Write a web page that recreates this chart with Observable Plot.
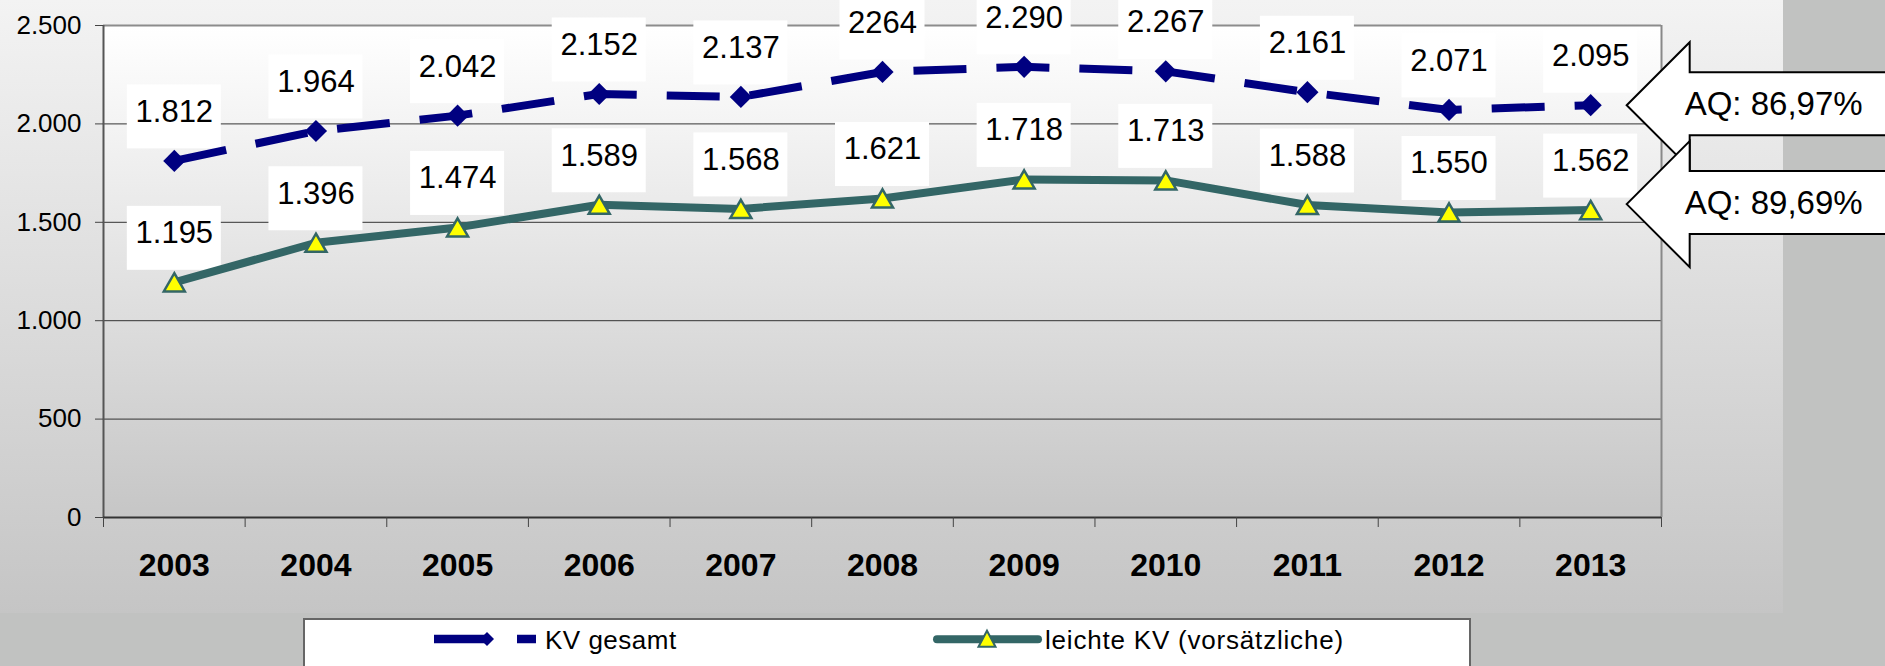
<!DOCTYPE html>
<html>
<head>
<meta charset="utf-8">
<script src="https://cdn.jsdelivr.net/npm/d3@7"></script>
<script src="https://cdn.jsdelivr.net/npm/@observablehq/plot@0.6"></script>
<style>
  html, body { margin: 0; padding: 0; }
  body { width: 1885px; height: 666px; overflow: hidden; position: relative; background: #c1c2c1; font-family: "Liberation Sans", Arial, sans-serif; }
  #slide { position: absolute; left: 0; top: 0; width: 1783px; height: 613px; background: linear-gradient(to bottom, #f3f3f3 0%, #c5c5c5 100%); }
  #chart { position: absolute; left: 0; top: 0; }
  #legend { position: absolute; left: 0; top: 618px; }
</style>
</head>
<body>
<div id="slide"></div>
<div id="chart"></div>
<div id="legend"></div>
<script>
const years = [2003, 2004, 2005, 2006, 2007, 2008, 2009, 2010, 2011, 2012, 2013];
const yearLabels = ["2003", "2004", "2005", "2006", "2007", "2008", "2009", "2010", "2011", "2012", "2013"];
const kvGesamt = [1812, 1964, 2042, 2152, 2137, 2264, 2290, 2267, 2161, 2071, 2095];
const kvGesamtLabels = ["1.812", "1.964", "2.042", "2.152", "2.137", "2264", "2.290", "2.267", "2.161", "2.071", "2.095"];
const leichteKV = [1195, 1396, 1474, 1589, 1568, 1621, 1718, 1713, 1588, 1550, 1562];
const leichteKVLabels = ["1.195", "1.396", "1.474", "1.589", "1.568", "1.621", "1.718", "1.713", "1.588", "1.550", "1.562"];
const seriesNames = ["KV gesamt", "leichte KV (vorsätzliche)"];
const aqLabels = ["AQ: 86,97%", "AQ: 89,69%"];
const yTicks = [0, 500, 1000, 1500, 2000, 2500];
const yTickLabels = ["0", "500", "1.000", "1.500", "2.000", "2.500"];

const navy = "#000080";
const teal = "#336666";

const kvData = years.map((year, i) => ({year, value: kvGesamt[i], label: kvGesamtLabels[i]}));
const lkData = years.map((year, i) => ({year, value: leichteKV[i], label: leichteKVLabels[i]}));
const allData = kvData.concat(lkData);
const edges = [years[0] - 0.5].concat(years.map(y => y + 0.5));
const kvLast = [kvData[kvData.length - 1]];
const lkLast = [lkData[lkData.length - 1]];

const arrowSymbol = {
  draw(ctx) {
    ctx.moveTo(0, 0);
    ctx.lineTo(63, -63);
    ctx.lineTo(63, -33);
    ctx.lineTo(420, -33);
    ctx.lineTo(420, 30);
    ctx.lineTo(63, 30);
    ctx.lineTo(63, 63);
    ctx.closePath();
  }
};

const defsMark = () => {
  const ns = "http://www.w3.org/2000/svg";
  const defs = document.createElementNS(ns, "defs");
  const g = document.createElementNS(ns, "linearGradient");
  g.setAttribute("id", "plotBg");
  g.setAttribute("x1", "0"); g.setAttribute("y1", "0");
  g.setAttribute("x2", "0"); g.setAttribute("y2", "1");
  [["0%", "#ffffff"], ["100%", "#c6c6c6"]].forEach(([o, c]) => {
    const s = document.createElementNS(ns, "stop");
    s.setAttribute("offset", o);
    s.setAttribute("stop-color", c);
    g.appendChild(s);
  });
  defs.appendChild(g);
  return defs;
};

const boxCommon = {x1: "year", x2: "year", y1: "value", y2: "value", insetTop: -76, insetBottom: 12, fill: "white"};

const chart = Plot.plot({
  width: 1885,
  height: 618,
  marginLeft: 103,
  marginRight: 224,
  marginTop: 25,
  marginBottom: 101,
  style: {background: "transparent", fontFamily: "'Liberation Sans', Arial, sans-serif", color: "black"},
  x: {domain: [edges[0], edges[edges.length - 1]], axis: null, label: null},
  y: {domain: [0, 2500], axis: null, label: null},
  marks: [
    defsMark,
    Plot.frame({fill: "url(#plotBg)", stroke: "none"}),
    Plot.ruleY(yTicks.filter(d => d > 0 && d < 2500), {stroke: "#333", strokeWidth: 1}),
    Plot.ruleY([2500], {stroke: "#8c8c8c", strokeWidth: 2}),
    Plot.ruleX([edges[edges.length - 1]], {stroke: "#888", strokeWidth: 2}),
    Plot.ruleX([edges[0]], {stroke: "#555", strokeWidth: 2}),
    Plot.ruleY([0], {stroke: "#333", strokeWidth: 2}),
    Plot.axisY(yTicks, {label: null, tickSize: 8, tickPadding: 14, fontSize: 26, stroke: "#444", fill: "black", tickFormat: d => yTickLabels[yTicks.indexOf(d)]}),
    Plot.axisX(edges, {label: null, tickSize: 10, stroke: "#444", tickFormat: () => ""}),
    Plot.axisX(years, {label: null, tickSize: 0, tickPadding: 36, fontSize: 32, fontWeight: "bold", fill: "black", tickFormat: d => yearLabels[years.indexOf(d)]}),
    // white label boxes
    Plot.rect(allData, {...boxCommon, filter: d => d.label.length === 5, insetLeft: -47, insetRight: -47}),
    Plot.rect(allData, {...boxCommon, filter: d => d.label.length === 4, insetLeft: -42.5, insetRight: -42.5}),
    Plot.text(allData, {x: "year", y: "value", text: "label", dy: -39, lineAnchor: "bottom", fontSize: 31, fill: "black"}),
    // series
    Plot.line(kvData, {x: "year", y: "value", stroke: navy, strokeWidth: 8, strokeDasharray: "53,30", strokeLinecap: "butt", strokeLinejoin: "miter"}),
    Plot.dot(kvData, {x: "year", y: "value", symbol: "diamond2", r: 10, fill: navy, stroke: "none"}),
    Plot.line(lkData, {x: "year", y: "value", stroke: teal, strokeWidth: 8, strokeLinecap: "butt"}),
    Plot.dot(lkData, {x: "year", y: "value", symbol: "triangle", r: 7.8, dy: 3, fill: "#ffff00", stroke: teal, strokeWidth: 2.5}),
    // AQ arrows
    Plot.dot(kvLast, {x: "year", y: "value", dx: 36, dy: 0, symbol: arrowSymbol, r: 5, fill: "white", stroke: "black", strokeWidth: 2}),
    Plot.text(kvLast, {x: "year", y: "value", dx: 94, dy: 10, text: () => aqLabels[0], textAnchor: "start", lineAnchor: "bottom", fontSize: 33, fill: "black"}),
    Plot.dot(lkLast, {x: "year", y: "value", dx: 36, dy: -6, symbol: arrowSymbol, r: 5, fill: "white", stroke: "black", strokeWidth: 2}),
    Plot.text(lkLast, {x: "year", y: "value", dx: 94, dy: 4, text: () => aqLabels[1], textAnchor: "start", lineAnchor: "bottom", fontSize: 33, fill: "black"})
  ]
});
document.getElementById("chart").appendChild(chart);

// legend below the chart
document.getElementById("legend").innerHTML = `
<svg width="1885" height="48" xmlns="http://www.w3.org/2000/svg" style="display:block;font-family:'Liberation Sans', Arial, sans-serif">
  <rect x="304" y="1" width="1166" height="60" fill="white" stroke="#666" stroke-width="2"/>
  <line x1="434" x2="536" y1="21" y2="21" stroke="${navy}" stroke-width="8.5" stroke-dasharray="53 30"/>
  <path d="M487,14 L494,21 L487,28 L480,21 Z" fill="${navy}"/>
  <text x="545" y="31.3" font-size="26" letter-spacing="0.5" fill="black">${seriesNames[0]}</text>
  <line x1="937" x2="1038" y1="21.3" y2="21.3" stroke="${teal}" stroke-width="8" stroke-linecap="round"/>
  <path d="M987,12.7 L995.5,28.7 L978.5,28.7 Z" fill="#ffff00" stroke="${teal}" stroke-width="2"/>
  <text x="1045" y="31.3" font-size="26" letter-spacing="0.8" fill="black">${seriesNames[1]}</text>
</svg>`;
</script>
</body>
</html>
